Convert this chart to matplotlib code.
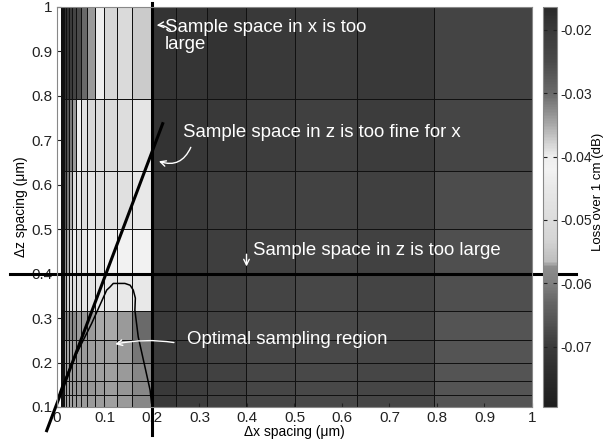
import numpy as np
import matplotlib
matplotlib.use('Agg')
import matplotlib.pyplot as plt
from matplotlib.colors import LinearSegmentedColormap, Normalize

plt.rcParams['font.family'] = ['Liberation Sans', 'DejaVu Sans']

# cell edges (um)
dx_edges = [0.0079, 0.01, 0.0126, 0.0158, 0.02, 0.0251, 0.0316, 0.0398, 0.0501,
            0.0631, 0.0794, 0.1, 0.126, 0.158, 0.2, 0.251, 0.316, 0.398, 0.501,
            0.631, 0.794, 1.0]
dz_edges = [0.1, 0.126, 0.158, 0.2, 0.251, 0.316, 0.398, 0.501, 0.631, 0.794, 1.0]

# loss over 1 cm (dB), rows from dz=0.1 up to dz=1
right_low = [-0.020, -0.0209, -0.0225, -0.0238, -0.0244, -0.0238, -0.0267]
loss_r0 = [-0.0345, -0.035, -0.035, -0.0348, -0.0345, -0.0342, -0.034, -0.034, -0.0338,
           -0.0338, -0.034, -0.0342, -0.0338, -0.0323] + right_low
loss_r1 = [-0.034, -0.0345, -0.0345, -0.0342, -0.034, -0.0338, -0.0336, -0.0336, -0.0335,
           -0.0336, -0.0338, -0.034, -0.0336, -0.0323] + right_low
loss_r2 = [-0.0342, -0.0346, -0.0346, -0.0343, -0.034, -0.0338, -0.0337, -0.0337, -0.0338,
           -0.034, -0.0342, -0.0343, -0.0338, -0.0323] + right_low
loss_r3 = [-0.0323, -0.0337, -0.035, -0.035, -0.0345, -0.0342, -0.034, -0.0338, -0.0338,
           -0.034, -0.0342, -0.0343, -0.0337, -0.031] + right_low
loss_r4 = [-0.0184, -0.0267, -0.031, -0.0323, -0.0323, -0.0323, -0.0325, -0.0337, -0.0337,
           -0.0337, -0.035, -0.035, -0.0337, -0.030] + right_low
loss_r5 = [-0.066, -0.063, -0.0583, -0.0569, -0.0544, -0.0496, -0.0483, -0.0483, -0.0463,
           -0.0463, -0.045, -0.045, -0.045, -0.045,
           -0.0196, -0.0206, -0.0219, -0.0231, -0.0241, -0.0231, -0.0259]
loss_r6 = [-0.0685, -0.066, -0.063, -0.0583, -0.0569, -0.0544, -0.0432, -0.0496, -0.045,
           -0.0426, -0.045, -0.042, -0.042, -0.042,
           -0.0196, -0.0203, -0.0212, -0.0225, -0.0234, -0.0225, -0.0258]
loss_r7 = [-0.0722, -0.070, -0.0685, -0.066, -0.061, -0.0569, -0.0496, -0.045, -0.0496,
           -0.0463, -0.0496, -0.0483, -0.0483, -0.045,
           -0.0191, -0.020, -0.0209, -0.0219, -0.0228, -0.0219, -0.0255]
loss_r8 = [-0.075, -0.0722, -0.070, -0.0685, -0.066, -0.061, -0.0572, -0.0426, -0.0483,
           -0.0519, -0.0496, -0.0509, -0.0496, -0.0463,
           -0.0184, -0.0196, -0.020, -0.0209, -0.0219, -0.0206, -0.0234]
loss_r9 = [-0.0795, -0.078, -0.0757, -0.0738, -0.0722, -0.070, -0.0685, -0.0676, -0.0625,
           -0.0572, -0.0432, -0.0526, -0.0509, -0.0545,
           -0.0184, -0.0191, -0.0184, -0.020, -0.0206, -0.020, -0.0231]
loss_db = np.array([loss_r0, loss_r1, loss_r2, loss_r3, loss_r4,
                    loss_r5, loss_r6, loss_r7, loss_r8, loss_r9])

# boundary lines and the optimal region outline
xlim_line = 0.2
zlim_line = 0.4
diag_x = [-0.0217, 0.2225]
diag_z = [0.0467, 0.7375]
opt_x = [0.0, 0.0099, 0.0379, 0.073, 0.1046, 0.1116, 0.1185, 0.143, 0.154, 0.1606,
         0.165, 0.164, 0.171, 0.185, 0.196, 0.199]
opt_z = [0.1157, 0.1456, 0.213, 0.288, 0.363, 0.370, 0.378, 0.378, 0.374, 0.363,
         0.345, 0.318, 0.258, 0.191, 0.138, 0.109]

vmin, vmax = -0.0795, -0.0164
# colormap (value, gray level)
cmap_pts = [(-0.0795, 30), (-0.075, 42), (-0.070, 58), (-0.066, 85), (-0.063, 102),
            (-0.060, 128), (-0.0575, 140), (-0.0565, 190), (-0.053, 213), (-0.050, 220),
            (-0.045, 232), (-0.042, 242), (-0.040, 238), (-0.038, 213), (-0.035, 170),
            (-0.030, 106), (-0.025, 74), (-0.020, 58), (-0.0164, 42)]
cmap = LinearSegmentedColormap.from_list(
    'loss', [((v - vmin) / (vmax - vmin), (g / 255.,) * 3) for v, g in cmap_pts], N=256)

fig = plt.figure(figsize=(6.05, 4.43), dpi=100)
ax = fig.add_axes([0.0942, 0.0813, 0.7851, 0.9029])
cax = fig.add_axes([0.897, 0.0813, 0.0241, 0.9029])

mesh = ax.pcolormesh(dx_edges, dz_edges, loss_db, cmap=cmap,
                     norm=Normalize(vmin, vmax), edgecolors='#111111', linewidth=0.6)
ax.set_xlim(0, 1)
ax.set_ylim(0.1, 1)
ax.set_xticks(np.arange(0, 1.01, 0.1))
ax.set_xticklabels(['0', '0.1', '0.2', '0.3', '0.4', '0.5', '0.6', '0.7', '0.8', '0.9', '1'])
ax.set_yticks(np.arange(0.1, 1.01, 0.1))
ax.set_yticklabels(['0.1', '0.2', '0.3', '0.4', '0.5', '0.6', '0.7', '0.8', '0.9', '1'])
ax.tick_params(direction='in', length=3, labelsize=11, pad=3, colors='#222222')
for s in ax.spines.values():
    s.set_color('#888888')
    s.set_linewidth(0.8)
ax.set_xlabel('\u0394x spacing (\u03bcm)', fontsize=10, labelpad=0)
ax.set_ylabel('\u0394z spacing (\u03bcm)', fontsize=10, labelpad=3)

# thick boundary lines
ax.plot([xlim_line, xlim_line], [0.037, 1.008], color='black', lw=2.2, clip_on=False)
ax.plot([-0.099, 1.093], [zlim_line, zlim_line], color='black', lw=2.2, clip_on=False)
ax.plot(diag_x, diag_z, color='black', lw=2.2, clip_on=False)
ax.plot(opt_x, opt_z, color='black', lw=1.1)

# annotations
tkw = dict(color='white', fontsize=13.4, va='center', ha='left')
ax.text(0.227, 0.935, 'Sample space in x is too\nlarge', linespacing=1.0, **tkw)
ax.text(0.266, 0.717, 'Sample space in z is too fine for x', **tkw)
ax.text(0.413, 0.453, 'Sample space in z is too large', **tkw)
ax.text(0.273, 0.252, 'Optimal sampling region', **tkw)

akw = dict(arrowstyle='->', color='white', lw=1.0)
ax.annotate('', xy=(0.204, 0.958), xytext=(0.243, 0.943),
            arrowprops=dict(connectionstyle='arc3,rad=0.3', **akw))
ax.annotate('', xy=(0.209, 0.655), xytext=(0.284, 0.690),
            arrowprops=dict(connectionstyle='arc3,rad=-0.5', **akw))
ax.annotate('', xy=(0.399, 0.410), xytext=(0.399, 0.450),
            arrowprops=dict(**akw))
ax.annotate('', xy=(0.117, 0.240), xytext=(0.252, 0.244),
            arrowprops=dict(connectionstyle='arc3,rad=0.1', **akw))

cb = fig.colorbar(mesh, cax=cax)
cb.set_ticks([-0.07, -0.06, -0.05, -0.04, -0.03, -0.02])
cb.set_ticklabels(['-0.07', '-0.06', '-0.05', '-0.04', '-0.03', '-0.02'])
cax.tick_params(direction='in', length=3, labelsize=10, pad=2, colors='#222222',
                left=True, right=True)
cb.outline.set_edgecolor('#888888')
cb.outline.set_linewidth(0.8)
fig.text(598 / 605, 1 - 192 / 443, 'Loss over 1 cm (dB)', rotation=90,
         ha='center', va='center', fontsize=9.5)

fig.savefig('out.png', dpi=100)
